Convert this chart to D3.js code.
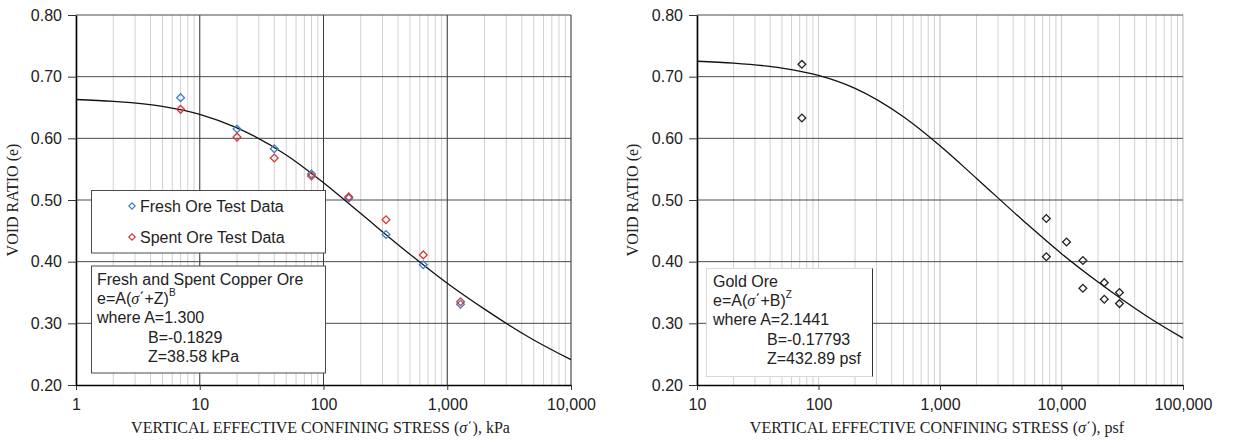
<!DOCTYPE html>
<html>
<head>
<meta charset="utf-8">
<script src="https://cdn.jsdelivr.net/npm/d3@7"></script>
<style>
body { margin: 0; background: #fff; }
svg { display: block; }
</style>
</head>
<body>
<svg width="1233" height="442"></svg>
<script>
var svg = d3.select('svg');

// copper ore test data, stress in kPa
var copperStress = [7, 20, 40, 80, 160, 320, 640, 1280];
var freshVoid = [0.666, 0.615, 0.583, 0.542, 0.503, 0.444, 0.395, 0.331];
var spentVoid = [0.647, 0.602, 0.568, 0.539, 0.505, 0.468, 0.411, 0.335];

// copper fitted curve
var copperFitStress = [1, 2, 5, 10, 20, 50, 100, 200, 500, 1000, 2000, 5000, 10000];
var copperFitVoid = [0.663, 0.660, 0.652, 0.639, 0.617, 0.573, 0.528, 0.478, 0.412, 0.365, 0.323, 0.273, 0.241];

// gold ore test data, stress in psf
var goldStress = [73, 73, 7500, 7500, 11000, 15000, 15000, 22500, 22500, 30000, 30000];
var goldVoid = [0.720, 0.633, 0.470, 0.408, 0.432, 0.402, 0.357, 0.366, 0.339, 0.350, 0.332];

// gold fitted curve
var goldFitStress = [10, 20, 50, 100, 200, 500, 1000, 2000, 5000, 10000, 20000, 50000, 100000];
var goldFitVoid = [0.725, 0.722, 0.714, 0.702, 0.681, 0.635, 0.588, 0.535, 0.464, 0.413, 0.367, 0.312, 0.276];

// tick labels
var yTicks = [0.20, 0.30, 0.40, 0.50, 0.60, 0.70, 0.80];
var copperTicks = [1, 10, 100, 1000, 10000];
var goldTicks = [10, 100, 1000, 10000, 100000];

var sans = '"Liberation Sans", Arial, sans-serif';
var serif = '"Liberation Serif", "Times New Roman", serif';
var plotTop = 15, plotBottom = 385;

var diamond = d3.symbol().type(d3.symbolSquare).size(30);

//draws one panel: grid, axes, curve and points
function drawPanel(p) {
    var x = d3.scaleLog().domain([p.ticks[0], p.ticks[p.ticks.length - 1]]).range([p.left, p.right]);
    var y = d3.scaleLinear().domain([0.2, 0.8]).range([plotBottom, plotTop]);
    var g = svg.append('g');

    //minor vertical grid
    g.selectAll('.minor')
        .data(x.ticks())
        .enter()
        .append('line')
        .attr('x1', function(d){ return x(d); })
        .attr('x2', function(d){ return x(d); })
        .attr('y1', plotTop)
        .attr('y2', plotBottom)
        .attr('stroke', '#d2d2d2')
        .attr('stroke-width', 1);

    //decade lines
    g.selectAll('.major')
        .data(p.ticks.slice(1))
        .enter()
        .append('line')
        .attr('x1', function(d){ return x(d); })
        .attr('x2', function(d){ return x(d); })
        .attr('y1', plotTop)
        .attr('y2', plotBottom)
        .attr('stroke', p.decadeColor)
        .attr('stroke-width', 1);

    //horizontal grid
    g.selectAll('.hgrid')
        .data(yTicks.slice(1))
        .enter()
        .append('line')
        .attr('x1', p.left)
        .attr('x2', p.right)
        .attr('y1', function(d){ return y(d); })
        .attr('y2', function(d){ return y(d); })
        .attr('stroke', '#4a4a4a')
        .attr('stroke-width', 1);

    //axes
    var xAxis = g.append('g')
        .attr('transform', 'translate(0,' + plotBottom + ')')
        .call(d3.axisBottom(x).tickValues(p.ticks).tickFormat(d3.format(',')).tickSizeInner(5).tickSizeOuter(0).tickPadding(9));
    var yAxis = g.append('g')
        .attr('transform', 'translate(' + p.left + ',0)')
        .call(d3.axisLeft(y).tickValues(yTicks).tickFormat(d3.format('.2f')).tickSizeInner(8).tickSizeOuter(0).tickPadding(6));
    [xAxis, yAxis].forEach(function(a){
        a.select('.domain').attr('stroke', '#000').attr('stroke-width', 1.6);
        a.selectAll('.tick line').attr('stroke', '#333');
        a.selectAll('text').attr('font-family', sans).attr('font-size', 16).attr('fill', '#222');
    });

    //axis titles
    var xt = g.append('text')
        .attr('x', (p.left + p.right) / 2 - 3)
        .attr('y', 433)
        .attr('text-anchor', 'middle')
        .attr('font-family', serif)
        .attr('font-size', 16)
        .attr('fill', '#222');
    xt.append('tspan').text('VERTICAL EFFECTIVE CONFINING STRESS (');
    xt.append('tspan').attr('font-style', 'italic').text('σ');
    xt.append('tspan').text('΄), ' + p.unit);

    g.append('text')
        .attr('transform', 'translate(' + p.yTitleX + ',200) rotate(-90)')
        .attr('text-anchor', 'middle')
        .attr('font-family', serif)
        .attr('font-size', 16)
        .attr('fill', '#222')
        .text('VOID RATIO (e)');

    p.boxes(g);

    //fitted curve
    var line = d3.line()
        .x(function(d){ return x(d[0]); })
        .y(function(d){ return y(d[1]); })
        .curve(d3.curveMonotoneX);
    g.append('path')
        .datum(d3.zip(p.fitX, p.fitY))
        .attr('d', line)
        .attr('fill', 'none')
        .attr('stroke', '#111')
        .attr('stroke-width', 1.3);

    //test points
    p.series.forEach(function(s){
        g.selectAll('.pt')
            .data(d3.zip(p.pointX, s.values))
            .enter()
            .append('path')
            .attr('d', diamond)
            .attr('transform', function(d){ return 'translate(' + x(d[0]) + ',' + y(d[1]) + ') rotate(45)'; })
            .attr('fill', 'none')
            .attr('stroke', s.color)
            .attr('stroke-width', 1.3);
    });
}

//writes the equation box lines
function noteLines(g, x0, xIndent, y0, lines, sym, sup) {
    var step = 19.3;
    var t = g.append('g').attr('font-family', sans).attr('font-size', 16).attr('fill', '#222');
    t.append('text').attr('x', x0).attr('y', y0).attr('dy', '0.35em').text(lines[0]);
    var eq = t.append('text').attr('x', x0).attr('y', y0 + step).attr('dy', '0.35em');
    eq.append('tspan').text('e=A(');
    eq.append('tspan').attr('font-family', serif).attr('font-style', 'italic').text('σ');
    eq.append('tspan').text('΄+' + sym + ')');
    eq.append('tspan').attr('font-size', 10).attr('dy', '-0.8em').text(sup);
    t.append('text').attr('x', x0).attr('y', y0 + step * 2).attr('dy', '0.35em').text(lines[1]);
    t.append('text').attr('x', xIndent).attr('y', y0 + step * 3).attr('dy', '0.35em').text(lines[2]);
    t.append('text').attr('x', xIndent).attr('y', y0 + step * 4).attr('dy', '0.35em').text(lines[3]);
}

drawPanel({
    left: 76, right: 571, ticks: copperTicks, decadeColor: '#3c3c3c', unit: 'kPa', yTitleX: 18,
    fitX: copperFitStress, fitY: copperFitVoid, pointX: copperStress,
    series: [
        { values: freshVoid, color: '#3f7fc0' },
        { values: spentVoid, color: '#d63a3a' }
    ],
    boxes: function(g){
        //legend
        g.append('rect').attr('x', 91.5).attr('y', 190.5).attr('width', 234).attr('height', 62.5)
            .attr('fill', '#fff').attr('stroke', '#4a4a4a').attr('stroke-width', 1);
        var legendNames = ['Fresh Ore Test Data', 'Spent Ore Test Data'];
        var legendColors = ['#3f7fc0', '#d63a3a'];
        legendNames.forEach(function(n, i){
            var ly = 206 + i * 31;
            g.append('path').attr('d', d3.symbol().type(d3.symbolSquare).size(20))
                .attr('transform', 'translate(132,' + ly + ') rotate(45)')
                .attr('fill', 'none').attr('stroke', legendColors[i]).attr('stroke-width', 1.2);
            g.append('text').attr('x', 140).attr('y', ly).attr('dy', '0.35em')
                .attr('font-family', sans).attr('font-size', 16).attr('fill', '#222').text(n);
        });
        //equation box
        g.append('rect').attr('x', 91.5).attr('y', 266).attr('width', 234).attr('height', 107)
            .attr('fill', '#fff').attr('stroke', '#4a4a4a').attr('stroke-width', 1);
        noteLines(g, 97, 148, 279, ['Fresh and Spent Copper Ore', 'where A=1.300', 'B=-0.1829', 'Z=38.58 kPa'], 'Z', 'B');
    }
});

drawPanel({
    left: 697, right: 1183, ticks: goldTicks, decadeColor: '#cfcfcf', unit: 'psf', yTitleX: 638,
    fitX: goldFitStress, fitY: goldFitVoid, pointX: goldStress,
    series: [
        { values: goldVoid, color: '#222' }
    ],
    boxes: function(g){
        g.append('rect').attr('x', 706.5).attr('y', 268.5).attr('width', 166).attr('height', 108)
            .attr('fill', '#fff').attr('stroke', '#d8d8d8').attr('stroke-width', 1);
        g.append('line').attr('x1', 872.5).attr('x2', 872.5).attr('y1', 268.5).attr('y2', 376.5)
            .attr('stroke', '#333').attr('stroke-width', 1);
        noteLines(g, 713, 767, 281, ['Gold Ore', 'where A=2.1441', 'B=-0.17793', 'Z=432.89 psf'], 'B', 'Z');
    }
});
</script>
</body>
</html>
